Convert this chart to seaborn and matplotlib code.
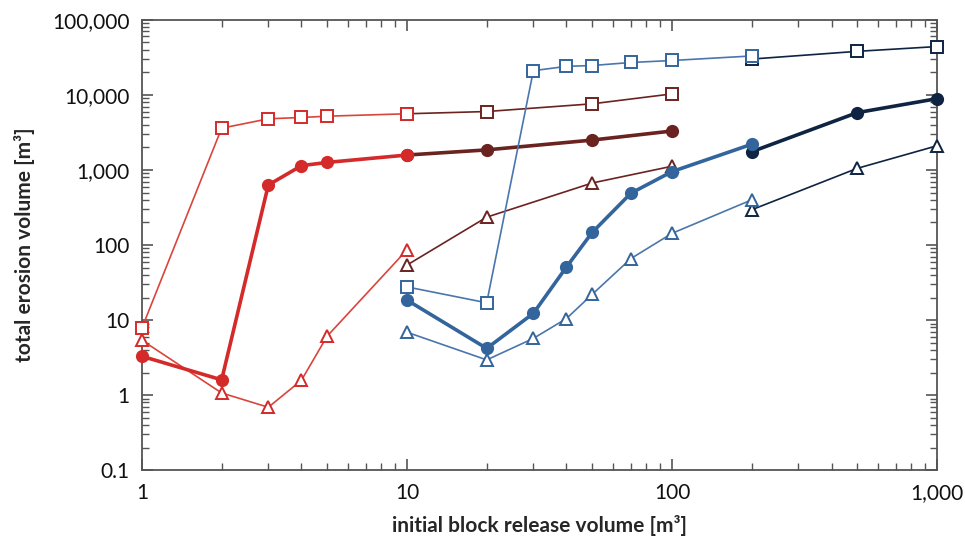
import matplotlib
matplotlib.use("Agg")
import matplotlib.pyplot as plt
import matplotlib.ticker as mticker
import seaborn as sns
import pandas as pd

# -----------------------------
# DATA
# -----------------------------
x_small_red = [1, 2, 3, 4, 5, 10]
sq_small_red = [7.8, 3600, 4800, 5000, 5200, 5600]
ci_small_red = [3.3, 1.6, 630, 1140, 1260, 1580]
tr_small_red = [5.4, 1.07, 0.69, 1.58, 6.1, 86]

x_large_red = [10, 20, 50, 100]
sq_large_red = [5600, 6000, 7600, 10300]
ci_large_red = [1580, 1850, 2500, 3300]
tr_large_red = [54, 235, 670, 1120]

x_small_blue = [10, 20, 30, 40, 50, 70, 100, 200]
sq_small_blue = [27.7, 17, 21000, 24000, 24600, 27000, 28700, 33000]
ci_small_blue = [18.5, 4.2, 12.3, 51, 147, 490, 950, 2200]
tr_small_blue = [6.9, 2.95, 5.7, 10.5, 22, 66, 143, 400]

x_large_blue = [200, 500, 1000]
sq_large_blue = [30000, 38000, 44000]
ci_large_blue = [1750, 5800, 8900]
tr_large_blue = [295, 1050, 2100]

x_ticks = [1, 10, 100, 1000]
y_ticks = [0.1, 1, 10, 100, 1000, 10000, 100000]

RED = "#d42a2a"
RED_LINE = "#d9453a"
DARK_RED = "#6b2320"
BLUE = "#33659c"
BLUE_LINE = "#4a76ad"
NAVY = "#0e2442"

# -----------------------------
# PLOT
# -----------------------------
sns.set_style("ticks")
plt.rcParams["font.family"] = ["Lato", "DejaVu Sans"]

fig = plt.figure(figsize=(9.65, 5.5), dpi=100)
ax = fig.add_axes([0.147, 0.145, 0.824, 0.819])

series = [
    # (x, y, color, line color, marker, filled, thick)
    (x_large_red, sq_large_red, DARK_RED, DARK_RED, "s", False, False),
    (x_large_red, ci_large_red, DARK_RED, DARK_RED, "o", True, True),
    (x_large_red, tr_large_red, DARK_RED, DARK_RED, "^", False, False),
    (x_small_red, sq_small_red, RED, RED_LINE, "s", False, False),
    (x_small_red, tr_small_red, RED, RED_LINE, "^", False, False),
    (x_small_red, ci_small_red, RED, RED, "o", True, True),
    (x_large_blue, sq_large_blue, NAVY, NAVY, "s", False, False),
    (x_large_blue, ci_large_blue, NAVY, NAVY, "o", True, True),
    (x_large_blue, tr_large_blue, NAVY, NAVY, "^", False, False),
    (x_small_blue, sq_small_blue, BLUE, BLUE_LINE, "s", False, False),
    (x_small_blue, tr_small_blue, BLUE, BLUE_LINE, "^", False, False),
    (x_small_blue, ci_small_blue, BLUE, BLUE, "o", True, True),
]

for xs, ys, col, lcol, mk, filled, thick in series:
    df = pd.DataFrame({"x": xs, "y": ys})
    sns.lineplot(
        data=df, x="x", y="y", ax=ax, sort=False, estimator=None,
        color=lcol, linewidth=2.6 if thick else 1.2,
        marker=mk,
        markersize=9.5 if mk == "o" else (8.5 if mk == "s" else 8),
        markerfacecolor=col if filled else "white",
        markeredgecolor=col, markeredgewidth=0 if filled else 1.4,
        clip_on=False, zorder=3,
    )

ax.set_xscale("log")
ax.set_yscale("log")
ax.set_xlim(1, 1000)
ax.set_ylim(0.1, 100000)


def fmt(v, pos):
    if v < 1:
        return f"{v:g}"
    return f"{int(round(v)):,}"


ax.xaxis.set_major_locator(mticker.FixedLocator(x_ticks))
ax.yaxis.set_major_locator(mticker.FixedLocator(y_ticks))
ax.xaxis.set_major_formatter(mticker.FuncFormatter(fmt))
ax.yaxis.set_major_formatter(mticker.FuncFormatter(fmt))
ax.xaxis.set_minor_formatter(mticker.NullFormatter())
ax.yaxis.set_minor_formatter(mticker.NullFormatter())
ax.xaxis.set_minor_locator(mticker.LogLocator(base=10, subs=range(2, 10)))
ax.yaxis.set_minor_locator(mticker.LogLocator(base=10, subs=range(2, 10)))

for s in ax.spines.values():
    s.set_visible(True)
    s.set_color("#555555")
    s.set_linewidth(1.3)
    s.set_zorder(2)

ax.tick_params(which="both", direction="in", top=True, right=True,
               color="#555555", labelsize=15, labelcolor="#111111")
ax.tick_params(which="major", length=8, width=1.2, pad=9)
ax.tick_params(which="minor", length=5, width=1.0)

ax.set_xlabel("initial block release volume [m³]", fontsize=15,
              fontweight="bold", labelpad=9)
ax.set_ylabel("total erosion volume [m³]", fontsize=15,
              fontweight="bold", labelpad=12)

fig.savefig("out.png", dpi=100)
